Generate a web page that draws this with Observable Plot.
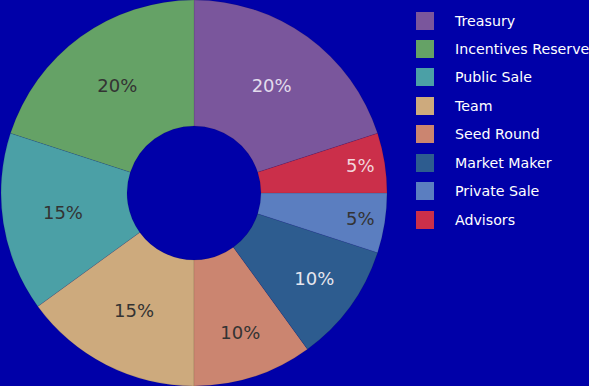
<!DOCTYPE html>
<html>
<head>
<meta charset="utf-8">
<script src="https://cdn.jsdelivr.net/npm/d3@7"></script>
<script src="https://cdn.jsdelivr.net/npm/@observablehq/plot@0.6"></script>
<style>
  html, body { margin: 0; padding: 0; background: #0000a8; }
  #wrap { position: relative; width: 589px; height: 386px; overflow: hidden; }
  #legend { position: absolute; left: 416px; top: 0; font-family: "DejaVu Sans", sans-serif; font-size: 14.2px; color: #ffffff; }
  .item { position: absolute; left: 0; white-space: nowrap; height: 18px; }
  .sw { position: absolute; left: 0; top: 0; width: 18px; height: 18px; }
  .lb { position: absolute; left: 39px; top: 0; line-height: 18px; }
</style>
</head>
<body>
<div id="wrap"></div>
<script>
const categories = ["Treasury", "Incentives Reserve", "Public Sale", "Team", "Seed Round", "Market Maker", "Private Sale", "Advisors"];
const shares = [20, 20, 15, 15, 10, 10, 5, 5];
const colors = ["#7a569c", "#65a266", "#4ba0a6", "#cdaa7d", "#cb8570", "#2d5c8f", "#5b7ec0", "#cb2f4a"];
const labelColors = ["#e2dcec", "#333333", "#333333", "#333333", "#333333", "#e6e6ee", "#333333", "#f2d6dc"];

const total = d3.sum(shares);
const startFrac = shares[0] / total;
function labelRadius(v) {
  return v >= 20 ? 0.68 : v >= 15 ? 0.69 : v >= 10 ? 0.767 : 0.87;
}
let cum = startFrac;
const rows = categories.map((c, i) => {
  const end = cum * 2 * Math.PI;
  const start = (cum - shares[i] / total) * 2 * Math.PI;
  cum -= shares[i] / total;
  const mid = (start + end) / 2;
  const r = labelRadius(shares[i]);
  return {category: c, value: shares[i], color: colors[i], labelColor: labelColors[i],
          startAngle: start, endAngle: end, mid,
          lx: r * Math.sin(mid), ly: r * Math.cos(mid)};
});

const innerFrac = 67 / 193;

function arcsMark(data) {
  return (index, scales, values, dimensions, context) => {
    const cx = scales.x(0), cy = scales.y(0);
    const R = scales.x(1) - scales.x(0);
    const arc = d3.arc().innerRadius(R * innerFrac).outerRadius(R);
    const g = d3.create("svg:g").attr("transform", `translate(${cx},${cy})`);
    g.selectAll("path").data(data).join("path")
      .attr("d", d => arc({startAngle: d.startAngle, endAngle: d.endAngle}))
      .attr("fill", d => d.color)
      .attr("stroke", "rgba(0,0,0,0.15)")
      .attr("stroke-width", 0.6);
    return g.node();
  };
}

const chart = Plot.plot({
  width: 589,
  height: 386,
  margin: 0,
  style: {background: "#0000a8", fontFamily: "DejaVu Sans, sans-serif"},
  x: {domain: [-1, 1], range: [1, 387], axis: null},
  y: {domain: [-1, 1], range: [386, 0], axis: null},
  marks: [
    arcsMark(rows),
    Plot.text(rows, {x: "lx", y: "ly", text: d => d.value + "%", fill: d => d.labelColor,
      fontSize: 18, textAnchor: "middle", dy: -1})
  ]
});

const wrap = document.getElementById("wrap");
wrap.appendChild(chart);

const legend = document.createElement("div");
legend.id = "legend";
categories.forEach((c, i) => {
  const item = document.createElement("div");
  item.className = "item";
  item.style.top = (11.5 + i * 28.45) + "px";
  item.innerHTML = `<div class="sw" style="background:${colors[i]}"></div><div class="lb">${c}</div>`;
  legend.appendChild(item);
});
wrap.appendChild(legend);
</script>
</body>
</html>
